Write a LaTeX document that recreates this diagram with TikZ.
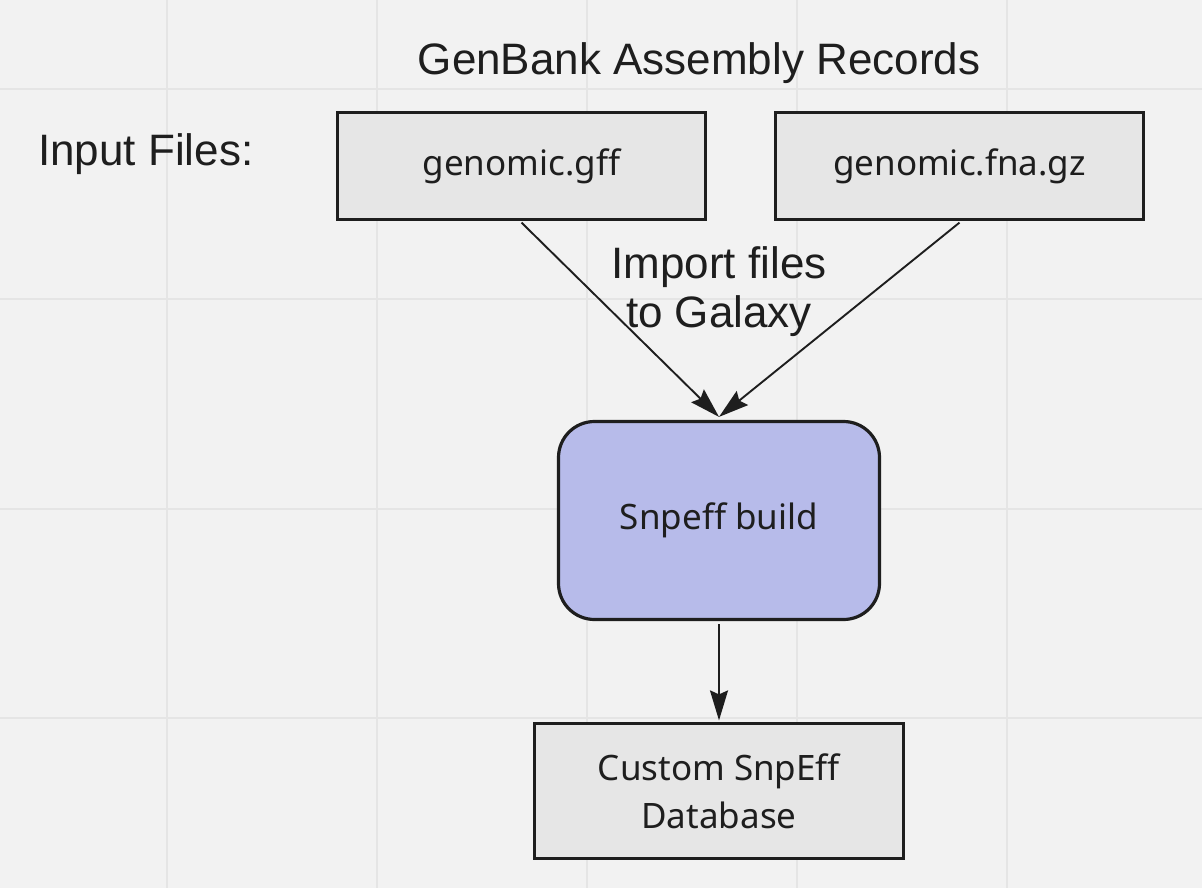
\documentclass[tikz,border=0pt]{standalone}
\usepackage{fontspec}
\setmainfont{Liberation Sans}
\newfontfamily\boxfont{Noto Sans}
\usetikzlibrary{arrows.meta}
\definecolor{bgc}{HTML}{F2F2F2}
\definecolor{gridc}{HTML}{E5E5E5}
\definecolor{boxc}{HTML}{E6E6E6}
\definecolor{buildc}{HTML}{B7BBEA}
\definecolor{inkc}{HTML}{1E1E1E}
\tikzset{
  filebox/.style={draw=inkc, line width=3.2pt, fill=boxc, inner sep=0pt,
    font=\boxfont\fontsize{35}{48}\selectfont, text=inkc, align=center},
  buildbox/.style={filebox, fill=buildc, rounded corners=36pt},
  label/.style={font=\fontsize{44}{49}\selectfont, text=inkc, inner sep=0pt, align=center},
  conn/.style={draw=inkc, line width=1.9pt, -{Stealth[length=30pt,width=18pt,inset=4pt]}},
}
\begin{document}
\begin{tikzpicture}[x=1pt,y=-1pt]
\fill[bgc] (0,0) rectangle (1202,888);
\useasboundingbox (0,0) rectangle (1202,888);
\foreach \gx in {167,377,587,797,1007} \draw[gridc, line width=2pt] (\gx,0) -- (\gx,888);
\foreach \gy in {89.5,299,508.5,718} \draw[gridc, line width=2pt] (0,\gy) -- (1202,\gy);

\node[label, anchor=base] (title) at (699,75) {GenBank Assembly Records};
\node[label, anchor=base west] (inlab) at (38,165) {Input Files:};

\node[filebox, minimum width=368pt, minimum height=107pt] (gff) at (521.5,166) {genomic.gff};
\node[filebox, minimum width=368pt, minimum height=107pt] (fna) at (959.5,166) {genomic.fna.gz};
\node[buildbox, minimum width=321pt, minimum height=198pt] (build) at (719,520.5) {Snpeff build};
\node[filebox, minimum width=369pt, minimum height=135pt] (db) at (719,791) {\raisebox{3pt}{\parbox{360pt}{\centering Custom SnpEff\\Database}}};

\node[label, anchor=base] (imp) at (719,327) {Import files\\to Galaxy};

\draw[conn] ([yshift=-1.5pt]gff.south) -- ([yshift=3pt]build.north);
\draw[conn] ([yshift=-1.5pt]fna.south) -- ([yshift=3pt]build.north);
\draw[conn] ([yshift=-3pt]build.south) -- ([yshift=1.5pt]db.north);
\end{tikzpicture}
\end{document}
